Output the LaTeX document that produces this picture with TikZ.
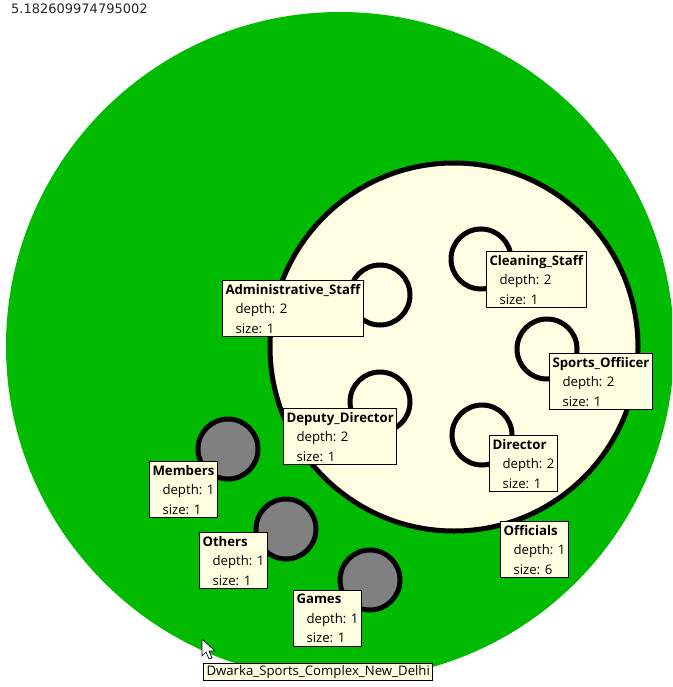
\documentclass[tikz,border=0pt]{standalone}
\usepackage{fontspec}
\setmainfont{Open Sans}
\newfontfamily\numfont{DejaVu Sans}
\definecolor{parkgreen}{RGB}{0,187,0}
\definecolor{circlecream}{RGB}{255,253,226}
\definecolor{boxcream}{RGB}{255,255,225}
\definecolor{leafgray}{RGB}{128,128,128}
\tikzset{
  group/.style={circle, draw=black, line width=5pt, inner sep=0pt, minimum size=60pt},
  infobox/.style={draw=black, line width=1pt, fill=boxcream, anchor=north west,
    align=left, inner xsep=3pt, inner ysep=3.5pt, font=\fontsize{13.2}{19.5}\selectfont},
}
\begin{document}
\begin{tikzpicture}[x=1pt, y=-1pt]
\useasboundingbox (0,0) rectangle (672,687);
\clip (0,0) rectangle (672,687);

\node[circle, fill=parkgreen, inner sep=0pt, minimum size=668pt] (complex) at (340,346) {};
\node[group, fill=circlecream, minimum size=368pt] (officials) at (454,347) {};

% members of Officials
\node[group, fill=circlecream] (admin) at (380,295) {};
\node[group, fill=circlecream] (deputy) at (380,402) {};
\node[group, fill=circlecream] (cleaning) at (481,259) {};
\node[group, fill=circlecream] (sports) at (547,349) {};
\node[group, fill=circlecream] (director) at (482,435) {};

% leaves
\node[group, fill=leafgray] (members) at (228,449) {};
\node[group, fill=leafgray] (others) at (286,529) {};
\node[group, fill=leafgray] (games) at (370,580) {};

% labels
\node[infobox] (admin-l) at (222,280) {\textbf{Administrative\_Staff}\\\hspace*{10pt}depth: 2\\\hspace*{10pt}size: 1};
\node[infobox] (deputy-l) at (283,408) {\textbf{Deputy\_Director}\\\hspace*{10pt}depth: 2\\\hspace*{10pt}size: 1};
\node[infobox] (cleaning-l) at (486,251) {\textbf{Cleaning\_Staff}\\\hspace*{10pt}depth: 2\\\hspace*{10pt}size: 1};
\node[infobox] (sports-l) at (549,353) {\textbf{Sports\_Offiicer}\\\hspace*{10pt}depth: 2\\\hspace*{10pt}size: 1};
\node[infobox] (director-l) at (489,435) {\textbf{Director}\\\hspace*{10pt}depth: 2\\\hspace*{10pt}size: 1};
\node[infobox] (officials-l) at (500,521) {\textbf{Officials}\\\hspace*{10pt}depth: 1\\\hspace*{10pt}size: 6};
\node[infobox] (members-l) at (149,461) {\textbf{Members}\\\hspace*{10pt}depth: 1\\\hspace*{10pt}size: 1};
\node[infobox] (others-l) at (199,532) {\textbf{Others}\\\hspace*{10pt}depth: 1\\\hspace*{10pt}size: 1};
\node[infobox] (games-l) at (293,590) {\textbf{Games}\\\hspace*{10pt}depth: 1\\\hspace*{10pt}size: 1};

\node[infobox, inner ysep=2pt] (tooltip) at (203,663) {Dwarka\_Sports\_Complex\_New\_Delhi};
\node[anchor=north west, inner sep=0pt, text=black!85, font=\numfont\fontsize{13}{15}\selectfont] (score) at (11,4) {5.182609974795002};

% pointer
\draw[fill=white, line width=0.6pt] (202,639) -- ++(0,17) -- ++(4,-4) -- ++(3,7) -- ++(3,-1) -- ++(-3,-7) -- ++(6,0) -- cycle;
\end{tikzpicture}
\end{document}
